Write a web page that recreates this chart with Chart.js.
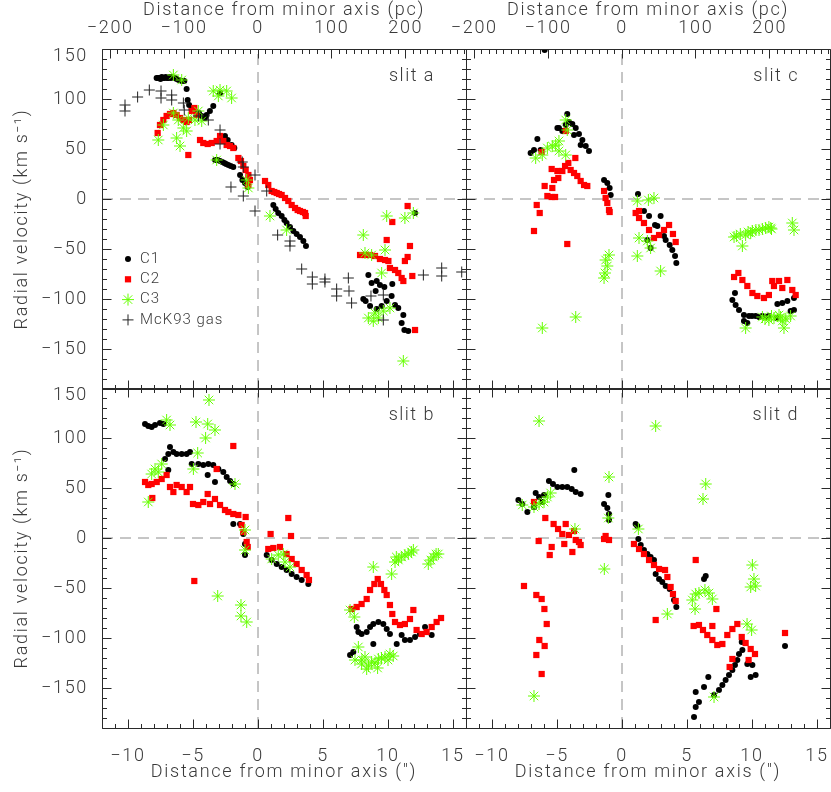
<!DOCTYPE html>
<html>
<head>
<meta charset="utf-8">
<script src="https://cdn.jsdelivr.net/npm/chart.js@4"></script>
<style>
  body { margin: 0; background: #fff; }
  #wrap { position: relative; width: 831px; height: 792px; }
  #wrap canvas { position: absolute; left: 0; top: 0; }
</style>
</head>
<body>
<div id="wrap">
  <canvas id="slitA" width="831" height="792"></canvas>
  <canvas id="slitC" width="831" height="792"></canvas>
  <canvas id="slitB" width="831" height="792"></canvas>
  <canvas id="slitD" width="831" height="792"></canvas>
</div>
<script>
// ---- data: [distance (arcsec), radial velocity (km/s)] ----
const seriesNames = ["C1", "C2", "C3", "McK93 gas"];

const slitA_C1 = [[-7.8,121],[-7.7,121],[-7.6,121],[-7.5,120],[-7.4,122],[-7.3,121],[-7.2,121],[-7.1,122],[-7.0,121],[-6.9,121],[-6.8,122],[-6.7,121],[-6.6,122],[-6.4,121],[-6.26,120],[-6.1,119],[-5.87,118],[-5.67,118],[-5.49,110],[-5.41,99],[-5.3,94],[-5.1,90],[-4.85,88],[-4.54,86],[-4.33,83],[-4.08,81],[-3.95,84],[-3.7,88],[-3.44,93],[-2.92,106],[-2.54,63],[-2.33,59],[-2.03,54],[-1.82,51],[-3.3,39],[-3.1,39],[-2.92,38],[-2.75,37],[-2.59,36],[-2.45,35],[-2.28,34],[-2.1,33],[-1.9,32],[-1.38,24],[-1.2,19],[-1.0,16],[-0.8,12],[1.18,-6],[1.36,-10],[1.56,-14],[1.82,-17],[2.03,-21],[2.2,-24],[2.46,-28],[2.72,-32],[2.97,-35],[3.23,-38],[3.49,-42],[3.69,-47],[8.49,-76],[8.74,-84],[9.13,-82],[9.38,-86],[9.72,-88],[9.05,-92],[10.33,-85],[8.1,-100],[8.28,-102],[8.62,-107],[9.13,-110],[9.51,-107],[9.9,-102],[10.28,-97],[10.54,-106],[10.79,-109],[11.18,-116],[11.05,-124],[11.26,-131],[11.56,-132],[12.08,-14]];
const slitA_C2 = [[-7.72,66],[-7.54,74],[-7.28,79],[-7.03,83],[-6.77,85],[-6.51,86],[-6.26,84],[-6.0,81],[-5.74,79],[-5.49,77],[-5.31,79],[-5.1,88],[-4.9,91],[-4.72,84],[-5.36,44],[-4.46,59],[-4.21,56],[-3.87,55],[-3.56,56],[-3.18,58],[-2.92,63],[-2.67,58],[-2.41,54],[-2.15,53],[-1.9,51],[-1.51,41],[-1.31,38],[-1.13,33],[-0.95,29],[-0.74,24],[-0.62,19],[-0.74,14],[0.54,18],[0.79,14],[1.05,8],[1.25,7],[1.44,6],[1.62,5],[1.82,4],[2.08,1],[2.33,-2],[2.59,-6],[2.85,-9],[3.05,-11],[3.23,-12],[3.45,-13],[3.62,-14],[3.67,-17],[7.85,-56],[8.23,-56],[8.62,-56],[9.0,-57],[9.38,-60],[9.77,-61],[10.03,-62],[10.15,-69],[10.54,-71],[10.79,-74],[11.05,-79],[11.18,-82],[9.9,-41],[10.33,-23],[11.51,-7],[11.69,-47],[11.51,-58],[11.3,-62],[11.87,-77],[12.08,-131]];
const slitA_C3 = [[-6.51,124],[-5.87,119],[-3.44,108],[-2.92,109],[-2.41,108],[-2.03,101],[-3.05,103],[-7.67,59],[-7.28,74],[-6.51,86],[-6.13,79],[-5.74,71],[-6.26,61],[-6.0,53],[-5.36,81],[-4.85,79],[-4.33,78],[-4.59,88],[-5.49,68],[-3.18,39],[-0.87,19],[-0.74,11],[0.92,-17],[2.2,-31],[8.1,-36],[8.23,-54],[8.74,-56],[9.77,-51],[9.51,-74],[8.49,-119],[8.87,-122],[9.26,-119],[9.64,-112],[10.15,-109],[9.0,-114],[9.9,-17],[11.3,-19],[11.95,-14],[11.18,-162]];
const slitA_gas = [[-10.23,94],[-10.23,88],[-9.26,102],[-8.36,109],[-7.46,108],[-7.46,101],[-6.64,104],[-6.64,99],[-5.74,96],[-5.67,89],[-4.59,83],[-3.82,79],[-2.92,69],[-2.92,55],[-1.21,37],[-1.13,32],[-0.23,24],[-2.08,12],[-1.13,3],[-0.23,-12],[0.67,8],[1.51,-36],[2.46,-42],[2.46,-47],[3.36,-70],[4.18,-78],[4.18,-85],[5.15,-80],[5.15,-83],[6.05,-90],[6.05,-97],[6.95,-79],[7.0,-92],[7.2,-104],[8.69,-97],[9.64,-96],[9.64,-121],[12.72,-76],[14.13,-69],[14.13,-77],[15.67,-73]];

const slitC_C1 = [[-5.95,149],[-4.21,85],[-4.97,71],[-4.33,74],[-4.08,77],[-3.82,75],[-3.56,71],[-3.31,65],[-3.05,59],[-2.79,53],[-2.54,48],[-4.59,68],[-6.51,60],[-7.03,46],[-6.77,49],[-6.26,49],[-4.85,71],[-3.69,64],[-3.18,54],[-1.38,19],[-1.13,16],[-0.95,11],[-0.87,4],[1.23,5],[1.69,-12],[2.08,-17],[2.54,-26],[2.97,-17],[3.36,-41],[3.67,-46],[3.87,-51],[4.08,-57],[4.18,-64],[3.23,-37],[2.72,-27],[2.2,-49],[1.95,-41],[8.69,-94],[8.49,-101],[8.74,-106],[9.0,-111],[9.38,-116],[9.77,-117],[10.0,-117],[10.28,-117],[10.55,-118],[10.79,-117],[11.05,-118],[11.3,-117],[11.95,-105],[12.33,-104],[12.72,-102],[13.23,-99],[12.97,-112],[13.23,-111],[9.64,-124],[9.38,-122],[11.9,-119]];
const slitC_C2 = [[-4.33,68],[-6.77,-32],[-6.56,-6],[-6.33,-14],[-5.95,13],[-5.74,3],[-5.41,2],[-5.15,2],[-5.36,11],[-5.23,19],[-4.9,21],[-4.97,28],[-5.41,30],[-4.59,28],[-4.38,33],[-4.13,36],[-3.95,29],[-3.69,26],[-3.44,23],[-3.18,18],[-2.92,14],[-2.67,13],[-3.59,41],[-4.21,-45],[-6.18,47],[-1.38,8],[-1.26,1],[-1.13,-4],[-1.0,-11],[-0.95,-13],[1.05,-14],[1.31,-19],[1.69,-24],[2.08,-31],[2.46,-39],[2.85,-36],[3.23,-31],[3.62,-26],[3.92,-35],[4.13,-43],[1.31,-12],[8.62,-78],[8.95,-74],[9.26,-81],[9.64,-87],[10.03,-94],[10.41,-97],[10.92,-99],[11.3,-96],[11.69,-87],[12.08,-82],[12.33,-89],[12.72,-81],[13.1,-91],[13.36,-96],[11.56,-82]];
const slitC_C3 = [[-4.33,79],[-4.21,69],[-4.85,58],[-5.36,53],[-5.74,51],[-6.64,41],[-6.13,44],[-4.85,48],[-5.1,54],[-4.33,44],[-6.13,-129],[-3.56,-118],[-1.26,-61],[-1.13,-67],[-1.31,-74],[-1.0,-56],[-1.38,-79],[1.18,-2],[2.03,-1],[2.46,1],[1.31,-39],[1.95,-42],[1.18,-57],[2.97,-72],[2.2,-49],[8.62,-38],[8.8,-37],[9.1,-35],[9.26,-47],[9.51,-36],[9.7,-33],[10.03,-32],[10.3,-31],[10.54,-31],[10.8,-30],[11.05,-29],[11.3,-28],[11.44,-29],[11.5,-30],[9.9,-34],[13.1,-24],[13.23,-31],[11.69,-119],[12.33,-122],[12.46,-129],[9.51,-129],[12.08,-116],[11.3,-121],[12.97,-117],[10.8,-118],[11.0,-120],[11.5,-117],[12.2,-118],[12.6,-120]];

const slitB_C1 = [[-8.69,114],[-8.44,112],[-8.18,111],[-7.92,113],[-7.54,115],[-7.28,114],[-6.77,91],[-7.15,79],[-6.9,84],[-6.51,86],[-6.26,84],[-5.87,84],[-5.49,84],[-5.23,86],[-5.1,74],[-4.59,74],[-4.21,73],[-3.82,74],[-3.44,73],[-3.05,69],[-2.67,66],[-2.41,61],[-2.15,57],[-1.9,54],[-3.87,63],[-3.31,56],[-6.9,68],[-1.9,14],[-1.38,14],[-1.13,4],[-1.0,-6],[-1.0,-17],[0.67,-17],[1.05,-22],[1.44,-26],[1.82,-29],[2.2,-32],[2.59,-36],[2.97,-39],[3.36,-42],[3.87,-46],[7.08,-117],[7.33,-114],[7.59,-89],[7.72,-94],[7.97,-96],[8.36,-94],[8.62,-89],[8.87,-86],[9.26,-84],[9.64,-86],[9.9,-91],[10.15,-96],[8.87,-106],[10.67,-106],[11.05,-97],[11.3,-102],[11.69,-102],[12.08,-99],[12.46,-96],[12.85,-89],[13.36,-97]];
const slitB_C2 = [[-8.69,56],[-8.44,53],[-8.18,54],[-7.79,56],[-7.41,59],[-7.03,63],[-8.13,40],[-6.77,51],[-6.51,46],[-6.26,53],[-5.87,51],[-5.49,46],[-5.23,51],[-5.0,34],[-4.59,33],[-4.21,36],[-3.87,44],[-3.69,34],[-3.31,39],[-2.92,33],[-2.54,28],[-2.28,26],[-1.9,24],[-1.51,23],[-0.95,21],[-1.26,13],[-1.13,6],[-0.87,-4],[-0.79,-9],[-1.9,92],[-3.18,69],[-4.9,-43],[0.97,4],[2.33,20],[2.54,2],[0.79,-11],[1.18,-10],[1.69,-9],[2.2,-16],[2.59,-21],[2.97,-26],[3.36,-32],[3.74,-37],[3.92,-42],[7.2,-71],[7.59,-69],[7.97,-66],[8.36,-61],[8.62,-52],[8.95,-46],[9.21,-41],[9.46,-46],[9.72,-52],[9.9,-57],[10.15,-67],[10.33,-76],[10.54,-84],[10.92,-87],[11.3,-86],[11.69,-81],[11.95,-72],[12.2,-92],[12.59,-96],[12.97,-94],[13.36,-89],[13.74,-84],[14.08,-80]];
const slitB_C3 = [[-7.03,118],[-6.77,113],[-3.77,138],[-4.77,116],[-3.87,114],[-3.31,108],[-4.03,100],[-4.64,85],[-4.97,69],[-7.41,74],[-7.92,69],[-8.18,64],[-7.67,66],[-8.44,36],[-1.77,54],[-1.0,8],[-1.0,-12],[-3.1,-58],[-1.31,-67],[-1.31,-78],[-0.87,-84],[1.05,-21],[1.56,-17],[1.95,-16],[2.08,-24],[2.46,-29],[7.08,-72],[7.41,-79],[7.72,-109],[7.46,-122],[7.97,-126],[8.0,-122],[8.36,-131],[8.5,-128],[8.74,-124],[9.0,-125],[9.2,-130],[9.26,-121],[9.5,-120],[9.77,-119],[10.0,-122],[10.15,-116],[10.4,-118],[8.23,-119],[8.87,-29],[10.28,-36],[10.54,-24],[10.8,-22],[11.05,-19],[11.3,-17],[11.56,-16],[11.8,-14],[11.95,-12],[13.1,-26],[13.3,-22],[13.49,-19],[13.7,-16],[13.87,-16],[10.64,-19]];

const slitD_C1 = [[-7.97,38],[-7.67,34],[-7.28,26],[-6.64,45],[-6.38,41],[-6.0,43],[-5.62,57],[-5.31,54],[-4.97,51],[-4.59,51],[-4.21,51],[-3.87,49],[-3.56,46],[-3.18,44],[-3.67,68],[-6.77,31],[-6.13,36],[-1.05,43],[-1.38,34],[-1.13,30],[-1.0,24],[-1.0,18],[1.05,14],[1.18,12],[1.26,-1],[1.44,-7],[1.69,-12],[1.95,-16],[2.2,-19],[2.46,-22],[2.59,-36],[2.85,-41],[3.1,-44],[3.36,-48],[3.67,-51],[4.0,-62],[4.18,-69],[6.31,-41],[6.44,-38],[5.54,-179],[5.67,-169],[5.92,-164],[5.67,-154],[6.31,-149],[6.64,-139],[7.08,-157],[7.46,-152],[7.72,-147],[7.97,-142],[8.23,-137],[8.49,-132],[8.69,-127],[8.87,-122],[9.0,-116],[9.26,-112],[9.21,-104],[9.64,-126],[10.03,-127],[9.9,-139],[10.28,-137],[12.54,-108]];
const slitD_C2 = [[-6.77,36],[-5.9,20],[-5.26,14],[-4.92,9],[-4.59,4],[-4.33,14],[-4.08,3],[-3.69,7],[-3.56,-2],[-3.31,-4],[-3.18,-7],[-3.82,-14],[-4.44,-6],[-5.41,-9],[-5.56,-17],[-6.41,-3],[-7.54,-48],[-6.59,-57],[-6.18,-61],[-5.97,-71],[-5.79,-86],[-6.36,-102],[-5.95,-108],[-6.59,-117],[-6.18,-136],[-1.38,-1],[-1.26,2],[-1.0,-2],[0.92,-6],[1.31,-11],[1.69,-16],[2.08,-22],[2.46,-27],[2.85,-31],[3.31,-32],[3.49,-39],[3.74,-49],[3.92,-56],[4.13,-63],[2.59,-82],[5.67,-22],[7.26,-71],[5.51,-88],[5.92,-87],[6.23,-92],[6.56,-97],[6.95,-102],[7.33,-107],[7.72,-106],[8.1,-97],[8.49,-91],[8.87,-86],[6.95,-88],[8.49,-121],[8.28,-129],[9.21,-99],[9.51,-105],[9.9,-111],[10.23,-116],[9.74,-122],[12.54,-95]];
const slitD_C3 = [[-6.38,117],[2.59,112],[-1.0,61],[-1.05,20],[-1.36,-31],[6.44,54],[6.23,39],[1.26,9],[-3.62,9],[-7.67,33],[-6.77,31],[-6.38,34],[-6.0,36],[-5.74,41],[-5.49,45],[-6.77,-158],[5.41,-62],[5.67,-56],[5.92,-55],[6.38,-52],[6.69,-55],[6.95,-61],[5.62,-71],[3.49,-76],[7.08,-159],[10.03,-27],[10.15,-41],[9.9,-49],[10.28,-48],[9.62,-86],[9.97,-92]];

// ---- axes ----
const xTicks = [-10, -5, 0, 5, 10, 15];
const pcTicks = [-200, -100, 0, 100, 200];
const yTicks = [150, 100, 50, 0, -50, -100, -150];
const X_MIN = -12, X_MAX = 16, Y_MIN = -190, Y_MAX = 150;
const PC_PER_ARCSEC = 17.6;

const FONT = 'Roboto, "DejaVu Sans", sans-serif';
const TEXT = '#3a3a3a';
const FRAME = '#2a2a2a';
const GREEN = '#66ff00';

const pts = arr => arr.map(([x, y]) => ({ x, y }));
const minus = v => String(v).replace('-', '\u2212');

function drawMarker(ctx, ds, cx, cy) {
  const r = ds.pointRadius;
  ctx.fillStyle = ds.backgroundColor;
  ctx.strokeStyle = ds.borderColor;
  ctx.lineWidth = ds.borderWidth || 1;
  ctx.beginPath();
  if (ds.pointStyle === 'circle') {
    ctx.arc(cx, cy, r, 0, Math.PI * 2);
    ctx.fill();
  } else if (ds.pointStyle === 'rect') {
    const s = r * Math.SQRT1_2;
    ctx.fillRect(cx - s, cy - s, 2 * s, 2 * s);
  } else {
    const arms = ds.pointStyle === 'star' ? 4 : 2;
    for (let i = 0; i < arms; i++) {
      const a = i * Math.PI / arms;
      ctx.moveTo(cx - r * Math.cos(a), cy - r * Math.sin(a));
      ctx.lineTo(cx + r * Math.cos(a), cy + r * Math.sin(a));
    }
    ctx.stroke();
  }
}

const panelFrame = {
  id: 'panelFrame',
  beforeDraw(chart) { chart.ctx.letterSpacing = '1.7px'; },
  afterDraw(chart, args, opts) {
    const { ctx, chartArea: a, scales } = chart;
    const x = scales.x, y = scales.y, top = opts.topAxis ? scales.x2 : null;
    const snap = v => Math.floor(v) + 0.5;
    const L = snap(a.left), R = snap(a.right), T = snap(a.top), B = snap(a.bottom);
    ctx.save();
    ctx.strokeStyle = FRAME;
    ctx.lineWidth = 1;
    ctx.beginPath();
    ctx.rect(L, T, R - L, B - T);
    for (let v = X_MIN; v <= X_MAX; v++) {
      const px = snap(x.getPixelForValue(v));
      const len = v % 5 === 0 ? 9 : 4.5;
      ctx.moveTo(px, B); ctx.lineTo(px, B - len);
      if (!top) { ctx.moveTo(px, T); ctx.lineTo(px, T + len); }
    }
    if (top) {
      for (let pc = -210; pc <= 280; pc += 10) {
        const px = snap(top.getPixelForValue(pc));
        const len = pc % 100 === 0 ? 9 : 4.5;
        ctx.moveTo(px, T); ctx.lineTo(px, T + len);
      }
    }
    for (let v = Y_MIN; v <= Y_MAX; v += 10) {
      const py = snap(y.getPixelForValue(v));
      const len = v % 50 === 0 ? 9 : 4.5;
      ctx.moveTo(L, py); ctx.lineTo(L + len, py);
      ctx.moveTo(R, py); ctx.lineTo(R - len, py);
    }
    ctx.stroke();

    ctx.letterSpacing = '1.5px';
    ctx.fillStyle = TEXT;
    ctx.font = '300 18px ' + FONT;
    ctx.textAlign = 'right';
    ctx.textBaseline = 'middle';
    ctx.fillText(opts.name, a.right - 31, a.top + 27);

    if (opts.legend) {
      const items = chart.data.datasets.filter(d => d.inLegend);
      ctx.letterSpacing = '1px';
      ctx.font = '300 15px ' + FONT;
      ctx.textAlign = 'left';
      items.forEach((ds, i) => {
        const cy = a.top + 210 + i * 20.3;
        drawMarker(ctx, ds, a.left + 26, cy);
        ctx.fillStyle = TEXT;
        ctx.fillText(ds.label, a.left + 38, cy);
      });
    }
    ctx.restore();
  }
};

function makePanel(id, name, col, row, c1, c2, c3, gas) {
  const datasets = [
    { type: 'line', data: pts([[0, Y_MIN], [0, Y_MAX]]), borderColor: '#8c8c8c', borderWidth: 1, borderDash: [11, 7], pointRadius: 0, order: 10 },
    { type: 'line', data: pts([[X_MIN, 0], [X_MAX, 0]]), borderColor: '#8c8c8c', borderWidth: 1, borderDash: [11, 7], pointRadius: 0, order: 10 },
    { label: seriesNames[0], inLegend: true, data: pts(c1), pointStyle: 'circle', pointRadius: 3, backgroundColor: '#000', borderColor: '#000', borderWidth: 0, order: 4 },
    { label: seriesNames[1], inLegend: true, data: pts(c2), pointStyle: 'rect', pointRadius: 4.4, backgroundColor: '#ff0000', borderColor: '#ff0000', borderWidth: 0, order: 3 },
    { label: seriesNames[2], inLegend: true, data: pts(c3), pointStyle: 'star', pointRadius: 6, backgroundColor: GREEN, borderColor: GREEN, borderWidth: 1, order: 2 }
  ];
  if (gas) {
    datasets.push({ label: seriesNames[3], inLegend: true, data: pts(gas), pointStyle: 'cross', pointRadius: 5.5, backgroundColor: '#222', borderColor: '#222', borderWidth: 1, order: 1 });
  }

  const areaLeft = col === 0 ? 102 : 466;
  const areaTop = row === 0 ? 49 : 388;
  const tickFont = { family: FONT, size: 18, weight: '300' };
  const noPad = s => { s.paddingLeft = 0; s.paddingRight = 0; s.paddingTop = 0; s.paddingBottom = 0; };

  new Chart(document.getElementById(id), {
    type: 'scatter',
    data: { datasets },
    options: {
      responsive: false,
      animation: false,
      events: [],
      layout: {
        autoPadding: false,
        padding: {
          left: col === 0 ? 0 : areaLeft,
          right: 831 - (areaLeft + 364),
          top: row === 0 ? 0 : areaTop,
          bottom: row === 0 ? 792 - (areaTop + 340) : 0
        }
      },
      plugins: {
        legend: { display: false },
        tooltip: { enabled: false },
        panelFrame: { name, legend: !!gas, topAxis: row === 0 }
      },
      scales: {
        x: {
          type: 'linear', position: 'bottom', min: X_MIN, max: X_MAX,
          display: row === 1,
          grid: { display: false }, border: { display: false },
          afterBuildTicks: s => { s.ticks = xTicks.map(value => ({ value })); },
          afterFit: s => { s.height = row === 1 ? 64 : 0; noPad(s); },
          ticks: { font: tickFont, color: TEXT, padding: 10, maxRotation: 0, autoSkip: false, callback: minus },
          title: { display: true, text: 'Distance from minor axis (")', font: tickFont, color: TEXT, padding: { top: 0, bottom: 9 } }
        },
        x2: {
          type: 'linear', position: 'top', min: X_MIN * PC_PER_ARCSEC, max: X_MAX * PC_PER_ARCSEC,
          display: row === 0,
          grid: { display: false }, border: { display: false },
          afterBuildTicks: s => { s.ticks = pcTicks.map(value => ({ value })); },
          afterFit: s => { s.height = row === 0 ? 49 : 0; noPad(s); },
          ticks: { font: tickFont, color: TEXT, padding: 2, maxRotation: 0, autoSkip: false, callback: minus },
          title: { display: true, text: 'Distance from minor axis (pc)', font: tickFont, color: TEXT, padding: { top: 0, bottom: 0 } }
        },
        y: {
          type: 'linear', position: 'left', min: Y_MIN, max: Y_MAX,
          display: col === 0,
          grid: { display: false }, border: { display: false },
          afterBuildTicks: s => { s.ticks = yTicks.map(value => ({ value })); },
          afterFit: s => { s.width = col === 0 ? 102 : 0; noPad(s); },
          ticks: {
            font: { family: FONT, size: 18, weight: '300', lineHeight: 0.78 },
            color: TEXT, padding: 6, autoSkip: false,
            callback: v => v === Y_MAX ? ['', minus(v)] : minus(v)
          },
          title: { display: true, text: 'Radial velocity (km s\u207B\u00B9)', font: tickFont, color: TEXT, padding: { top: 12, bottom: 0 } }
        }
      }
    },
    plugins: [panelFrame]
  });
}

makePanel('slitA', 'slit a', 0, 0, slitA_C1, slitA_C2, slitA_C3, slitA_gas);
makePanel('slitC', 'slit c', 1, 0, slitC_C1, slitC_C2, slitC_C3, null);
makePanel('slitB', 'slit b', 0, 1, slitB_C1, slitB_C2, slitB_C3, null);
makePanel('slitD', 'slit d', 1, 1, slitD_C1, slitD_C2, slitD_C3, null);
</script>
</body>
</html>
